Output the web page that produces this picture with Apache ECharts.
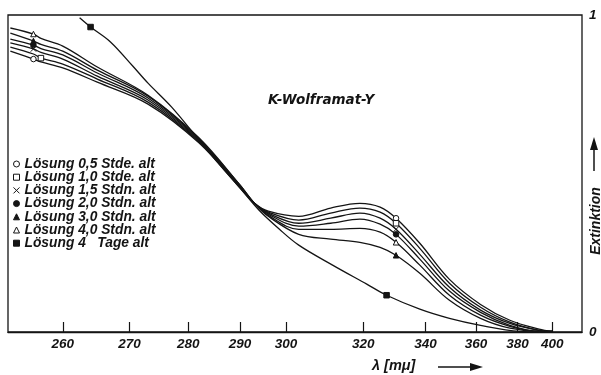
<!DOCTYPE html>
<html><head><meta charset="utf-8">
<script src="https://cdn.jsdelivr.net/npm/echarts@6/dist/echarts.min.js"></script>
<style>html,body{margin:0;padding:0;background:#fff}#c{width:601px;height:375px}</style>
</head><body><div id="c"></div>
<script>
// wavelengths (mμ) shared by the six "Stunden" curves
const lambdaGrid = [253,256,257,260,265,273,282,290,293,296,303,311,319,325,330,338,349,362,376,392,400];
const ext05h = [0.886,0.861,0.852,0.833,0.788,0.719,0.596,0.454,0.406,0.381,0.365,0.391,0.406,0.394,0.359,0.280,0.166,0.087,0.037,0.009,0.002];
const ext10h = [0.899,0.877,0.864,0.845,0.798,0.725,0.599,0.457,0.406,0.378,0.353,0.375,0.391,0.378,0.343,0.264,0.154,0.078,0.031,0.005,0.002];
const ext15h = [0.912,0.893,0.882,0.861,0.807,0.732,0.602,0.457,0.406,0.375,0.343,0.359,0.375,0.359,0.324,0.245,0.141,0.069,0.027,0.005,0.002];
const ext20h = [0.924,0.905,0.894,0.874,0.817,0.738,0.605,0.460,0.406,0.372,0.334,0.343,0.356,0.340,0.308,0.230,0.129,0.062,0.021,0.002,0.002];
const ext30h = [0.943,0.918,0.907,0.886,0.826,0.744,0.608,0.463,0.406,0.365,0.308,0.293,0.283,0.267,0.242,0.185,0.100,0.043,0.012,0.002,0.002];
const ext40h = [0.959,0.940,0.926,0.902,0.836,0.747,0.612,0.463,0.406,0.368,0.324,0.324,0.327,0.315,0.283,0.211,0.116,0.053,0.018,0.002,0.002];
// 4 Tage curve
const tageLambda = [262.4,264,267,270.5,273,277,282,286,290,294,298.5,303,311.5,321,327,338,349,362,381,395.5];
const extTage = [0.991,0.962,0.915,0.839,0.785,0.710,0.605,0.526,0.454,0.384,0.324,0.274,0.211,0.151,0.116,0.072,0.043,0.021,0.002,0.000];
// marker positions (mμ)
const markers05 = [256,330], markers10 = [257,330], markers15 = [256,330], markers20 = [256,330], markers30 = [256,330], markers40 = [256,330];
const markersTage = [264,327];
const seriesNames = ['Lösung 0,5 Stde. alt','Lösung 1,0 Stde. alt','Lösung 1,5 Stdn. alt','Lösung 2,0 Stdn. alt','Lösung 3,0 Stdn. alt','Lösung 4,0 Stdn. alt','Lösung 4   Tage alt'];
const xTickLabels = [260,270,280,290,300,320,340,360,380,400];
const yTickLabels = [0,1];
const xRange = [252.7, 420.6];

const INK = '#141414';
const FONT = 'Liberation Sans';
const tf = l => 1e7 * Math.pow(l, -2.5);            // abscissa scale of the original (∝ λ^-2.5)
const itf = t => Math.pow(1e7 / t, 0.4);
const CROSS = 'path://M0,0L10,10M10,0L0,10';

const symSpec = [
  {sym:'circle', hollow:true}, {sym:'rect', hollow:true}, {sym:CROSS, hollow:true},
  {sym:'circle', hollow:false}, {sym:'triangle', hollow:false}, {sym:'triangle', hollow:true},
  {sym:'rect', hollow:false}
];
const curves = [
  [lambdaGrid, ext05h, markers05],[lambdaGrid, ext10h, markers10],[lambdaGrid, ext15h, markers15],
  [lambdaGrid, ext20h, markers20],[lambdaGrid, ext30h, markers30],[lambdaGrid, ext40h, markers40],
  [tageLambda, extTage, markersTage]
];

const series = curves.map(([lam, vals, mk], i) => ({
  type: 'line', name: seriesNames[i], smooth: 0.35, showSymbol: true,
  data: lam.map((l, j) => [tf(l), vals[j]]),
  symbol: (v, p) => mk.includes(lam[p.dataIndex]) ? symSpec[i].sym : 'none',
  symbolSize: 5.5,
  itemStyle: {color: symSpec[i].hollow ? '#fff' : INK, borderColor: INK, borderWidth: 1},
  lineStyle: {color: INK, width: 1.3},
  emphasis: {disabled: true}, silent: true, z: 3
}));

const chart = echarts.init(document.getElementById('c'), null, {renderer: 'canvas'});
chart.setOption({
  animation: false,
  backgroundColor: '#fff',
  title: {text: 'K-Wolframat-Y', left: 263, top: 88,
    textStyle: {fontFamily: 'DejaVu Sans', fontStyle: 'italic', fontWeight: 'bold', fontSize: 13.5, color: INK}},
  grid: {left: 8, right: 19, top: 15, bottom: 43, show: true, borderColor: INK, borderWidth: 1.3, backgroundColor: 'transparent'},
  legend: {
    orient: 'vertical', left: 13, top: 157, padding: 0, itemGap: -0.8, itemWidth: 6, itemHeight: 6,
    selectedMode: false,
    textStyle: {fontFamily: FONT, fontStyle: 'italic', fontWeight: 'bold', fontSize: 13.8, color: INK, lineHeight: 13.2},
    data: seriesNames.map((n, i) => ({name: n, icon: symSpec[i].sym,
      itemStyle: {color: symSpec[i].hollow ? '#fff' : INK, borderColor: INK, borderWidth: 1}}))
  },
  xAxis: {
    type: 'value', inverse: true, min: tf(xRange[1]), max: tf(xRange[0]),
    axisLine: {show: true, lineStyle: {color: INK, width: 1.3}},
    axisTick: {show: true, inside: true, length: 10, customValues: xTickLabels.map(tf), lineStyle: {color: INK, width: 1.2}},
    axisLabel: {customValues: xTickLabels.map(tf), formatter: v => String(Math.round(itf(v))), margin: 5,
      fontFamily: FONT, fontStyle: 'italic', fontWeight: 'bold', fontSize: 13.5, color: INK},
    splitLine: {show: false}
  },
  yAxis: {
    type: 'value', position: 'right', min: 0, max: 1, interval: 1,
    axisLine: {show: false}, axisTick: {show: false}, splitLine: {show: false},
    axisLabel: {margin: 7, fontFamily: FONT, fontStyle: 'italic', fontWeight: 'bold', fontSize: 13.5, color: INK,
      formatter: v => yTickLabels.includes(v) ? String(v) : ''}
  },
  graphic: [
    {type: 'text', left: 372, top: 358, style: {text: 'λ [mμ]', font: 'italic bold 14.5px "Liberation Sans"', fill: INK}},
    {type: 'line', shape: {x1: 438, y1: 367, x2: 474, y2: 367}, style: {stroke: INK, lineWidth: 1.5}},
    {type: 'polygon', shape: {points: [[483,367],[470,363],[470,371]]}, style: {fill: INK}},
    {type: 'text', x: 596, y: 221, rotation: Math.PI / 2,
      style: {text: 'Extinktion', font: 'italic bold 14px "Liberation Sans"', fill: INK, align: 'center', verticalAlign: 'middle'}},
    {type: 'line', shape: {x1: 594, y1: 171, x2: 594, y2: 146}, style: {stroke: INK, lineWidth: 1.5}},
    {type: 'polygon', shape: {points: [[594,137],[590,150],[598,150]]}, style: {fill: INK}}
  ],
  series: series
});
</script></body></html>
